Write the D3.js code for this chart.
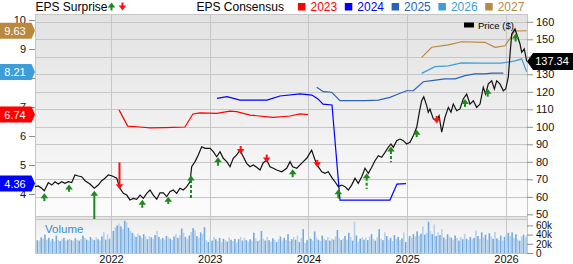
<!DOCTYPE html>
<html>
<head>
<meta charset="utf-8">
<script src="https://cdn.jsdelivr.net/npm/d3@7"></script>
<style>
  body { margin: 0; background: #fff; }
  svg text { font-family: "Liberation Sans", Arial, sans-serif; }
</style>
</head>
<body>
<div id="vis"></div>
<script>
// Frame and panel bounds
const FRAME_WIDTH = 573;
const FRAME_HEIGHT = 264;
const PLOT = {left: 35, right: 527, top: 14, priceBottom: 216, volTop: 219, volBottom: 253};

// Price (weekly closes, decimal years)
const priceDates = [
  2021.230,2021.264,2021.298,2021.325,2021.365,2021.400,2021.433,2021.466,2021.501,2021.534,
  2021.568,2021.602,2021.635,2021.669,2021.703,2021.737,2021.787,2021.831,2021.871,2021.906,
  2021.939,2021.973,2022.013,2022.058,2022.091,2022.125,2022.159,2022.192,2022.226,2022.260,
  2022.294,2022.327,2022.362,2022.395,2022.428,2022.463,2022.496,2022.530,2022.564,2022.597,
  2022.631,2022.665,2022.699,2022.732,2022.767,2022.800,2022.817,2022.851,2022.884,2022.918,
  2022.952,2023.003,2023.036,2023.070,2023.104,2023.137,2023.172,2023.205,2023.238,2023.273,
  2023.306,2023.340,2023.373,2023.408,2023.441,2023.475,2023.509,2023.542,2023.577,2023.610,
  2023.644,2023.678,2023.729,2023.779,2023.813,2023.840,2023.881,2023.914,2023.947,2023.982,
  2024.032,2024.066,2024.099,2024.134,2024.167,2024.200,2024.235,2024.268,2024.302,2024.336,
  2024.370,2024.403,2024.437,2024.471,2024.504,2024.539,2024.572,2024.606,2024.640,2024.673,
  2024.707,2024.741,2024.775,2024.808,2024.835,2024.859,2024.893,2024.927,2024.960,2024.994,
  2025.028,2025.061,2025.096,2025.122,2025.146,2025.167,2025.197,2025.213,2025.230,2025.264,
  2025.298,2025.322,2025.349,2025.382,2025.416,2025.443,2025.466,2025.501,2025.534,2025.567,
  2025.602,2025.635,2025.669,2025.703,2025.737,2025.770,2025.794,2025.821,2025.855,2025.882,
  2025.906,2025.939,2025.973,2025.997,2026.023,2026.041,2026.058,2026.091,2026.108,2026.142,
  2026.159,2026.185,2026.210];
const priceValues = [
  65.8,66.2,64.9,63.5,68.1,66.7,68.6,67.3,68.6,67.7,
  68.6,68.1,72.5,71.9,71.5,69.2,67.3,64.9,66.7,69.2,
  70.6,72.5,71.9,70.6,64.9,62.0,61.0,58.2,59.1,58.6,
  61.0,59.1,62.0,63.9,61.0,58.6,62.3,62.3,60.1,62.9,
  63.9,62.0,64.9,63.9,65.8,68.6,77.2,80.1,83.9,88.6,
  87.7,87.7,85.8,82.9,85.8,82.0,80.1,77.2,82.0,83.9,
  86.7,82.9,79.1,77.2,78.2,76.9,75.3,79.5,81.0,77.2,
  76.3,75.3,74.3,76.3,80.1,77.2,76.3,78.2,80.1,82.0,
  86.7,81.0,77.2,74.3,73.4,74.3,71.1,68.6,65.8,66.7,
  65.8,63.9,66.7,70.6,67.7,71.5,76.3,73.4,76.9,80.6,
  83.5,82.6,85.4,88.3,90.2,88.3,92.1,93.0,92.1,90.2,
  91.1,94.9,99.7,108.3,114.9,117.2,112.1,108.3,110.2,104.5,
  103.5,106.3,96.9,105.4,111.1,108.3,113.0,109.2,110.2,115.9,
  118.7,113.0,114.9,111.1,113.0,122.6,118.7,124.5,126.3,121.6,
  126.3,124.5,120.6,121.6,128.3,141.6,153.0,155.9,153.0,147.3,
  142.6,144.5,137.34];

// EPS consensus, one pair of arrays per fiscal year
const eps2023Dates = [2022.081,2022.169,2022.294,2022.395,2022.547,2022.749,2022.830,2022.901,2023.070,2023.205,2023.273,2023.408,2023.644,2023.813,2023.914,2023.995];
const eps2023Values = [6.90,6.34,6.31,6.28,6.29,6.31,6.76,6.80,6.78,6.86,6.84,6.72,6.64,6.69,6.76,6.74];
const eps2024Dates = [2023.073,2023.175,2023.306,2023.580,2023.711,2023.914,2024.035,2024.096,2024.147,2024.238,2024.319,2024.825,2024.896,2024.987];
const eps2024Values = [7.30,7.36,7.24,7.24,7.38,7.45,7.41,7.28,7.10,7.07,3.79,3.79,4.34,4.36];
const eps2025Dates = [2024.083,2024.150,2024.235,2024.319,2024.572,2024.707,2024.825,2024.909,2024.994,2025.061,2025.163,2025.248,2025.382,2025.484,2025.585,2025.686,2025.787,2025.855,2025.973];
const eps2025Values = [7.68,7.53,7.51,7.22,7.22,7.24,7.33,7.45,7.56,7.56,7.87,7.91,7.97,7.97,8.08,8.14,8.14,8.17,8.17];
const eps2026Dates = [2025.146,2025.281,2025.416,2025.551,2025.720,2025.956,2026.091,2026.159,2026.210];
const eps2026Values = [8.16,8.39,8.42,8.52,8.51,8.51,8.59,8.66,8.21];
const eps2027Dates = [2025.146,2025.248,2025.416,2025.551,2025.787,2025.889,2025.990,2026.091,2026.210];
const eps2027Values = [8.71,9.06,9.14,9.25,9.23,9.06,9.11,9.62,9.63];

const consensusYears = ["2023", "2024", "2025", "2026", "2027"];
const consensusColors = ["#ff0000", "#0000ff", "#2a62b6", "#3d9dd8", "#b8893f"];

// EPS surprises (%), positive = beat
const surpriseDates = [2021.325,2021.575,2021.831,2022.086,2022.317,2022.580,2022.810,2023.084,2023.313,2023.577,2023.840,2024.089,2024.302,2024.589,2024.835,2025.096,2025.298,2025.585,2025.815,2026.098];
const surpriseValues = [3,2,40,-32,3,2,28,4,-3,-3,3,-2,5,15,15,2,-2,3,3,3];
const surpriseDashed = [6, 13, 14];

// Weekly volume (thousands)
const VOL_START = 2021.235;
const volumeValues = [
  30,28,27,34,31,40,29,33,27,31,25,38,28,26,30,33,27,29,31,28,
  26,32,29,27,30,38,33,29,27,35,31,28,34,30,27,36,45,29,41,31,
  36,48,56,60,64,58,52,70,67,55,48,44,40,35,42,38,33,41,36,30,
  37,34,31,39,48,35,30,33,29,37,34,31,28,36,41,33,39,53,44,35,
  30,38,46,54,50,37,33,45,41,56,28,24,32,27,35,30,26,33,24,31,
  28,25,34,29,26,31,23,30,35,27,33,28,25,30,27,44,32,26,29,48,
  31,27,35,28,25,32,29,24,30,36,27,33,28,41,26,30,35,29,38,24,
  33,52,22,28,36,31,27,47,34,29,26,38,31,28,35,27,32,29,36,50,
  33,28,31,37,29,44,35,27,68,38,25,31,34,29,33,28,36,41,30,27,
  34,52,31,28,45,37,29,33,26,39,31,35,28,32,45,24,30,37,33,41,
  36,47,38,42,58,40,44,68,48,41,62,37,45,39,52,34,30,41,36,33,
  29,38,33,27,35,30,42,31,28,35,30,33,49,37,31,45,34,40,29,43,
  36,31,46,32,28,38,27,35,41,44,37,45,33,41,30,27,36,40,34,38];

// Tick labels (8 and 140 sit under the value badges, so only their tick marks show)
const yearTicks = [2022, 2023, 2024, 2025, 2026];
const epsTicks = [4, 5, 6, 7, 8, 9, 10];
const epsHiddenLabels = [8];
const priceTicks = [50, 60, 70, 80, 90, 100, 110, 120, 130, 140, 150, 160];
const priceHiddenLabels = [140];
const volumeTicks = [0, 20, 40, 60];

const FRAME = d3.select("#vis")
  .append("svg")
    .attr("width", FRAME_WIDTH)
    .attr("height", FRAME_HEIGHT);

// scales
const X_SCALE = d3.scaleLinear().domain([2021.2304, 2026.2127]).range([PLOT.left, PLOT.right]);
const PRICE_SCALE = d3.scaleLinear().domain([49.03, 164.46]).range([PLOT.priceBottom, PLOT.top]);
const EPS_SCALE = d3.scaleLinear().domain([3.241, 10.207]).range([PLOT.priceBottom, PLOT.top]);
const VOL_SCALE = d3.scaleLinear().domain([0, 74]).range([PLOT.volBottom, PLOT.volTop]);
const ARROW_LEN = d3.scaleLinear().domain([0, 40]).range([6, 32]);

// backgrounds
const defs = FRAME.append("defs");
const g1 = defs.append("linearGradient").attr("id", "bgPrice").attr("x1", 0).attr("y1", 0).attr("x2", 0).attr("y2", 1);
g1.append("stop").attr("offset", "0%").attr("stop-color", "#e2e2e2");
g1.append("stop").attr("offset", "100%").attr("stop-color", "#fcfcfc");
const g2 = defs.append("linearGradient").attr("id", "bgVol").attr("x1", 0).attr("y1", 0).attr("x2", 0).attr("y2", 1);
g2.append("stop").attr("offset", "0%").attr("stop-color", "#ececec");
g2.append("stop").attr("offset", "100%").attr("stop-color", "#ffffff");
defs.append("clipPath").attr("id", "clipPrice")
  .append("rect").attr("x", PLOT.left).attr("y", PLOT.top)
  .attr("width", PLOT.right - PLOT.left).attr("height", PLOT.volTop - PLOT.top);
defs.append("clipPath").attr("id", "clipVol")
  .append("rect").attr("x", PLOT.left).attr("y", PLOT.volTop)
  .attr("width", PLOT.right - PLOT.left).attr("height", PLOT.volBottom - PLOT.volTop);

FRAME.append("rect")
  .attr("x", PLOT.left).attr("y", PLOT.top)
  .attr("width", PLOT.right - PLOT.left).attr("height", PLOT.priceBottom - PLOT.top)
  .attr("fill", "url(#bgPrice)");
FRAME.append("rect")
  .attr("x", PLOT.left).attr("y", PLOT.priceBottom)
  .attr("width", PLOT.right - PLOT.left).attr("height", PLOT.volTop - PLOT.priceBottom)
  .attr("fill", "#e4e4e4");
FRAME.append("rect")
  .attr("x", PLOT.left).attr("y", PLOT.volTop)
  .attr("width", PLOT.right - PLOT.left).attr("height", PLOT.volBottom - PLOT.volTop)
  .attr("fill", "url(#bgVol)");

// grid
const grid = FRAME.append("g").attr("stroke", "#c6c6c6").attr("stroke-width", 1).attr("shape-rendering", "crispEdges");
grid.selectAll(".hg").data(priceTicks.filter(d => d > 50)).enter().append("line")
  .attr("x1", PLOT.left).attr("x2", PLOT.right)
  .attr("y1", d => Math.round(PRICE_SCALE(d)) + 0.5).attr("y2", d => Math.round(PRICE_SCALE(d)) + 0.5);
grid.selectAll(".vg").data(yearTicks).enter().append("line")
  .attr("x1", d => Math.round(X_SCALE(d)) + 0.5).attr("x2", d => Math.round(X_SCALE(d)) + 0.5)
  .attr("y1", PLOT.top).attr("y2", PLOT.volBottom);
[PLOT.top, PLOT.priceBottom, PLOT.volTop, PLOT.volBottom].forEach(y => {
  grid.append("line").attr("x1", PLOT.left).attr("x2", PLOT.right).attr("y1", y + 0.5).attr("y2", y + 0.5);
});
[PLOT.left, PLOT.right].forEach(x => {
  grid.append("line").attr("x1", x + 0.5).attr("x2", x + 0.5).attr("y1", PLOT.top).attr("y2", PLOT.volBottom);
});

// volume bars
FRAME.append("g").attr("clip-path", "url(#clipVol)")
  .selectAll("rect").data(volumeValues).enter().append("rect")
    .attr("x", (d, i) => X_SCALE(VOL_START + i / 52) - 0.8)
    .attr("y", d => VOL_SCALE(d))
    .attr("width", 1.6)
    .attr("height", d => PLOT.volBottom - VOL_SCALE(d))
    .attr("fill", (d, i) => i % 2 ? "#74a9db" : "#b3d0ec");

FRAME.append("text")
  .attr("x", 45).attr("y", 233)
  .attr("font-size", "11.5px").attr("fill", "#3b8bd0")
  .text("Volume");

// consensus lines
const epsSeries = [
  [eps2023Dates, eps2023Values], [eps2024Dates, eps2024Values], [eps2025Dates, eps2025Values],
  [eps2026Dates, eps2026Values], [eps2027Dates, eps2027Values]];
const epsLine = d3.line().x(d => X_SCALE(d[0])).y(d => EPS_SCALE(d[1]));
const plotArea = FRAME.append("g").attr("clip-path", "url(#clipPrice)");
epsSeries.forEach((s, k) => {
  plotArea.append("path")
    .datum(d3.zip(s[0], s[1]))
    .attr("d", epsLine)
    .attr("fill", "none")
    .attr("stroke", consensusColors[k])
    .attr("stroke-width", 1.2);
});

// price line
const priceLine = d3.line().x(d => X_SCALE(d[0])).y(d => PRICE_SCALE(d[1]));
plotArea.append("path")
  .datum(d3.zip(priceDates, priceValues))
  .attr("d", priceLine)
  .attr("fill", "none")
  .attr("stroke", "#111")
  .attr("stroke-width", 1.2);

// price at a date, for placing the surprise arrows
function priceAt(t) {
  const i = Math.max(1, Math.min(priceDates.length - 1, d3.bisectLeft(priceDates, t)));
  const a = priceDates[i - 1], b = priceDates[i];
  const f = (t - a) / (b - a);
  return priceValues[i - 1] + f * (priceValues[i] - priceValues[i - 1]);
}

function drawArrow(g, x, tip, len, up, color, dashed) {
  const h = 5, w = 3.8, s = up ? 1 : -1;
  g.append("line")
    .attr("x1", x).attr("x2", x)
    .attr("y1", tip + s * (h - 0.5)).attr("y2", tip + s * len)
    .attr("stroke", color).attr("stroke-width", 2)
    .attr("stroke-dasharray", dashed ? "3,2" : null);
  g.append("path")
    .attr("d", `M${x},${tip}L${x - w},${tip + s * h}L${x + w},${tip + s * h}Z`)
    .attr("fill", color);
}

const arrows = plotArea.append("g");
surpriseDates.forEach((t, i) => {
  const v = surpriseValues[i];
  const up = v > 0;
  const x = X_SCALE(t);
  const tip = PRICE_SCALE(priceAt(t)) + 2.5;
  drawArrow(arrows, x, tip, ARROW_LEN(Math.abs(v)), up, up ? "#1c8a1c" : "#ff1010", surpriseDashed.includes(i));
});

// axes
function styleAxis(g, size) {
  g.select(".domain").remove();
  g.selectAll(".tick line").attr("stroke", "#8a8a8a");
  g.selectAll("text").attr("font-size", size || "11px").attr("fill", "#111")
    .attr("font-family", '"Liberation Sans", Arial, sans-serif');
}
FRAME.append("g")
  .attr("transform", "translate(" + PLOT.left + ",0)")
  .call(d3.axisLeft(EPS_SCALE).tickValues(epsTicks).tickSize(6).tickPadding(3)
    .tickFormat(d => epsHiddenLabels.includes(d) ? "" : d3.format("d")(d)))
  .call(styleAxis);
FRAME.append("g")
  .attr("transform", "translate(" + PLOT.right + ",0)")
  .call(d3.axisRight(PRICE_SCALE).tickValues(priceTicks).tickSize(6).tickPadding(3)
    .tickFormat(d => priceHiddenLabels.includes(d) ? "" : d))
  .call(styleAxis);
FRAME.append("g")
  .attr("transform", "translate(" + PLOT.right + ",0)")
  .call(d3.axisRight(VOL_SCALE).tickValues(volumeTicks).tickSize(6).tickPadding(3)
    .tickFormat(d => d ? d + "k" : "0"))
  .call(g => styleAxis(g, "10px"));
FRAME.append("g")
  .attr("transform", "translate(0," + PLOT.volBottom + ")")
  .call(d3.axisBottom(X_SCALE).tickValues(yearTicks).tickFormat(d3.format("d")).tickSize(0).tickPadding(2))
  .call(styleAxis);

// left value badges (latest consensus): 2027, 2026, 2023, 2024
const badgeOrder = [4, 3, 0, 1];
const badges = FRAME.append("g");
badgeOrder.forEach(k => {
  const vals = epsSeries[k][1];
  const v = vals[vals.length - 1];
  const y = EPS_SCALE(v);
  badges.append("path")
    .attr("d", `M0,${y - 8}H31.5L35,${y}L31.5,${y + 8}H0Z`)
    .attr("fill", consensusColors[k]);
  badges.append("text")
    .attr("x", 15).attr("y", y + 4)
    .attr("text-anchor", "middle")
    .attr("font-size", "11px").attr("fill", "#fff")
    .text(v.toFixed(2));
});

// right price badge
const lastPrice = priceValues[priceValues.length - 1];
const py = PRICE_SCALE(lastPrice);
FRAME.append("path")
  .attr("d", `M${PLOT.right},${py}L${PLOT.right + 6},${py - 8.5}H${FRAME_WIDTH}V${py + 8.5}H${PLOT.right + 6}Z`)
  .attr("fill", "#000");
FRAME.append("text")
  .attr("x", 552).attr("y", py + 4)
  .attr("text-anchor", "middle")
  .attr("font-size", "11px").attr("fill", "#fff")
  .text(lastPrice.toFixed(2));

// price legend inside plot
FRAME.append("rect").attr("x", 464).attr("y", 22.5).attr("width", 10).attr("height", 5).attr("fill", "#000");
FRAME.append("text").attr("x", 478).attr("y", 28.5).attr("font-size", "9.5px").attr("fill", "#000").text("Price ($)");

// top legend
FRAME.append("text").attr("x", 35.5).attr("y", 10.5).attr("font-size", "12px").attr("fill", "#000").text("EPS Surprise");
const legendArrows = FRAME.append("g");
drawArrow(legendArrows, 111.5, 2.5, 8, true, "#1c8a1c", false);
drawArrow(legendArrows, 122.5, 10.5, 8, false, "#ff1010", false);
FRAME.append("text").attr("x", 196.5).attr("y", 10.5).attr("font-size", "12px").attr("fill", "#000").text("EPS Consensus");

const legend = FRAME.append("g");
consensusYears.forEach((yr, k) => {
  const x0 = 298 + k * 46.8;
  legend.append("rect").attr("x", x0).attr("y", 3).attr("width", 7.5).attr("height", 7.5).attr("fill", consensusColors[k]);
  legend.append("text").attr("x", x0 + 12.5).attr("y", 11).attr("font-size", "12px")
    .attr("fill", consensusColors[k]).text(yr);
});
</script>
</body>
</html>
